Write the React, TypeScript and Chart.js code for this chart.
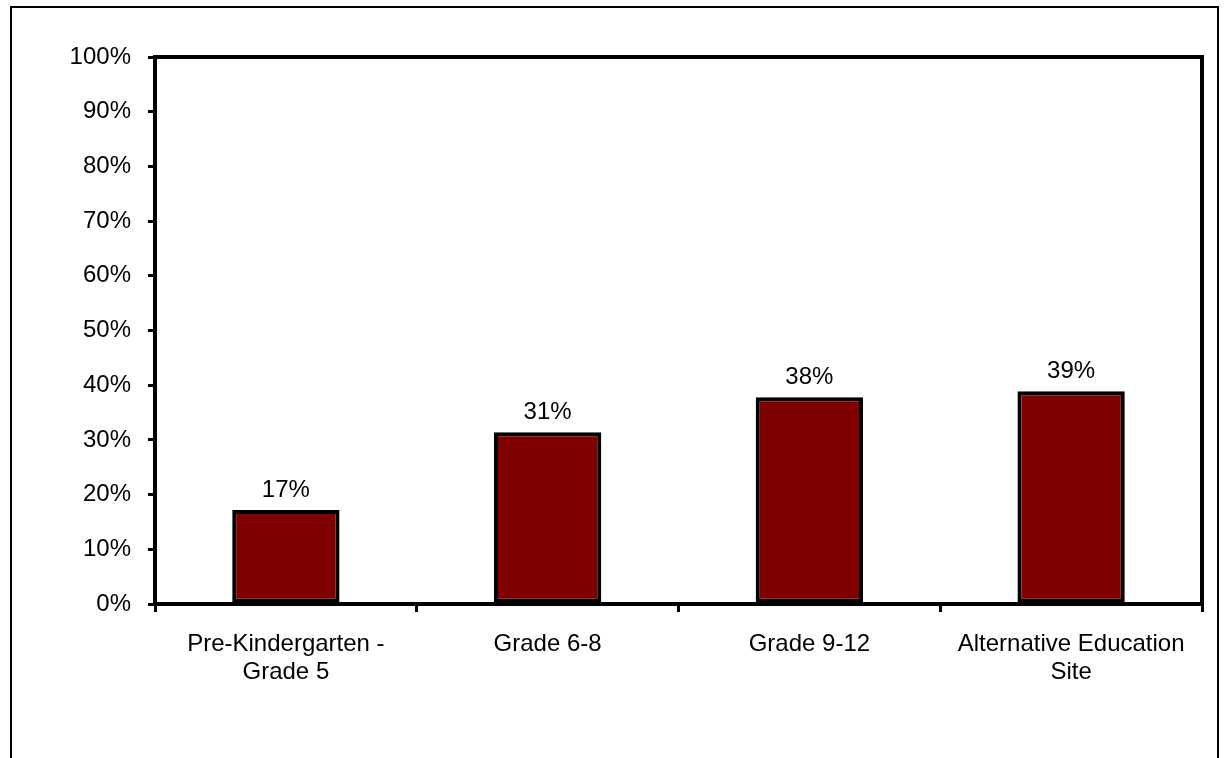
import React, { useEffect, useRef } from "react";
import { Chart, registerables } from "chart.js";

Chart.register(...registerables);

const categories: (string | string[])[] = [
  ["Pre-Kindergarten -", "Grade 5"],
  "Grade 6-8",
  "Grade 9-12",
  ["Alternative Education", "Site"],
];
const values: number[] = [17.2, 31.4, 37.8, 38.9];
const yTickValues: number[] = [0, 10, 20, 30, 40, 50, 60, 70, 80, 90, 100];

const FONT = "'Liberation Sans', Arial, sans-serif";
const FONT_SIZE = 24;

const framePlugin = {
  id: "frame",
  afterDraw(chart: any) {
    const { ctx, chartArea } = chart;
    ctx.save();
    ctx.strokeStyle = "#000";
    ctx.lineWidth = 4;
    ctx.strokeRect(chartArea.left, chartArea.top, chartArea.right - chartArea.left, chartArea.bottom - chartArea.top);
    ctx.restore();
  },
};

const labelPlugin = {
  id: "barLabels",
  afterDatasetsDraw(chart: any) {
    const { ctx } = chart;
    const meta = chart.getDatasetMeta(0);
    const data = chart.data.datasets[0].data as number[];
    ctx.save();
    ctx.font = `${FONT_SIZE}px ${FONT}`;
    ctx.fillStyle = "#000";
    ctx.textAlign = "center";
    ctx.textBaseline = "alphabetic";
    meta.data.forEach((el: any, i: number) => {
      ctx.fillText(Math.round(data[i]) + "%", el.x, el.y - 13);
    });
    ctx.restore();
  },
};

export default function App() {
  const ref = useRef<HTMLCanvasElement>(null);
  useEffect(() => {
    if (!ref.current) return;
    const chart = new Chart(ref.current, {
      type: "bar",
      data: {
        labels: categories,
        datasets: [
          {
            data: values,
            backgroundColor: "#800000",
            borderColor: "#000",
            borderWidth: 4,
            borderSkipped: false,
            categoryPercentage: 1,
            barPercentage: 0.41,
          },
        ],
      },
      options: {
        animation: false,
        responsive: false,
        maintainAspectRatio: false,
        layout: { padding: { left: 0, right: 25, top: 57, bottom: 0 } },
        plugins: { legend: { display: false }, tooltip: { enabled: false } },
        scales: {
          x: {
            afterFit(scale: any) {
              scale.height = 154;
            },
            grid: {
              offset: true,
              drawOnChartArea: false,
              drawTicks: true,
              tickLength: 8,
              color: "#000",
              lineWidth: 3,
            },
            border: { display: true, color: "#000", width: 4 },
            ticks: {
              color: "#000",
              font: { family: FONT, size: FONT_SIZE, lineHeight: 1.15 },
              padding: 19,
              maxRotation: 0,
              autoSkip: false,
            },
          },
          y: {
            min: 0,
            max: 100,
            afterFit(scale: any) {
              scale.width = 155;
            },
            afterBuildTicks(scale: any) {
              scale.ticks = yTickValues.map((v) => ({ value: v }));
            },
            grid: {
              drawOnChartArea: false,
              drawTicks: true,
              tickLength: 7,
              color: "#000",
              lineWidth: 3,
            },
            border: { display: true, color: "#000", width: 4 },
            ticks: {
              color: "#000",
              font: { family: FONT, size: FONT_SIZE },
              padding: 17,
              callback: (v: any) => v + "%",
            },
          },
        },
      },
      plugins: [framePlugin, labelPlugin],
    });
    return () => chart.destroy();
  }, []);

  return (
    <div style={{ position: "absolute", left: 0, top: 0, width: 1227, height: 758, overflow: "hidden", background: "#fff" }}>
      <div
        style={{
          position: "absolute",
          left: 10,
          top: 6,
          width: 1205,
          height: 800,
          border: "2px solid #000",
        }}
      />
      <canvas ref={ref} width={1227} height={758} style={{ position: "absolute", left: 0, top: 0 }} />
    </div>
  );
}
